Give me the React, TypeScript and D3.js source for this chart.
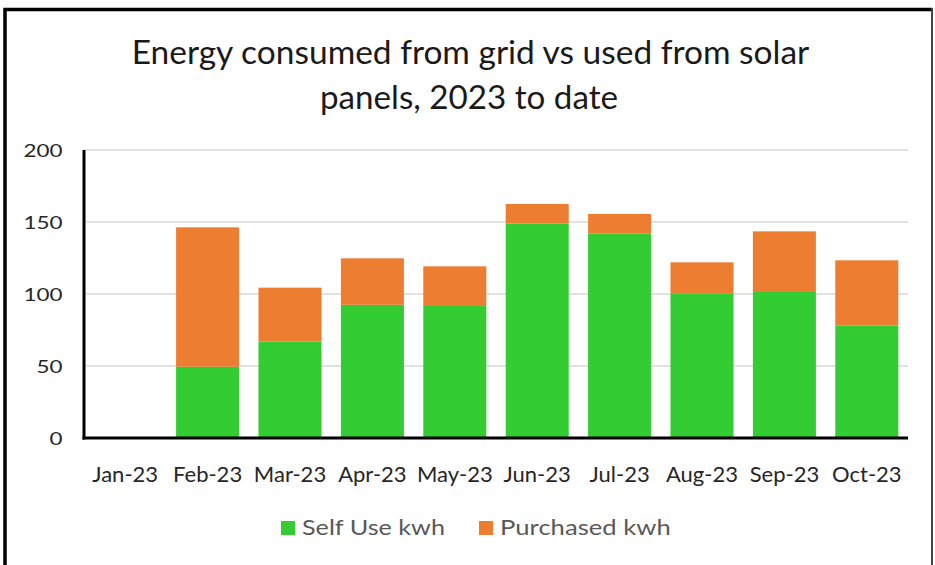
import { useEffect, useRef } from 'react';
import * as d3 from "d3";

// chart data
const months = ["Jan-23", "Feb-23", "Mar-23", "Apr-23", "May-23", "Jun-23", "Jul-23", "Aug-23", "Sep-23", "Oct-23"];
const selfUse = [0, 49.5, 67, 92.5, 91.7, 149, 142, 100.5, 102, 78];
const purchased = [0, 96.8, 37.4, 32.3, 27.5, 13.5, 13.6, 21.5, 41.5, 45.4];
const yTicks = [0, 50, 100, 150, 200];
const seriesNames = ["Self Use kwh", "Purchased kwh"];
const seriesColors = ["#33cc33", "#ed7d31"];
const titleLines = ["Energy consumed from grid vs used from solar", "panels, 2023 to date"];

export default function App() {
  const chartRef = useRef<SVGSVGElement>(null);

  useEffect(() => {
    if (!chartRef.current) return;
    document.body.style.margin = "0";

    const svg = d3.select(chartRef.current);
    svg.selectAll("*").remove();

    const width = 935;
    const height = 565;
    const marginLeft = 84;
    const marginRight = 27;
    const plotTop = 150;
    const plotBottom = 438;
    const font = "Lato, 'Open Sans', sans-serif";

    svg.attr("viewBox", [0, 0, width, height])
      .attr("width", width)
      .attr("height", height);

    // background + frame
    svg.append("rect").attr("width", width).attr("height", height).attr("fill", "white");
    svg.append("path")
      .attr("d", `M5,${height} V9.5 H${width - 3}`)
      .attr("fill", "none").attr("stroke", "#000").attr("stroke-width", 3.5);
    svg.append("line")
      .attr("x1", width - 3).attr("x2", width - 3).attr("y1", 8).attr("y2", height)
      .attr("stroke", "#444").attr("stroke-width", 2);

    const table = months.map((m, i) => ({ month: m, self: selfUse[i], purchased: purchased[i] }));

    const x = d3.scaleBand()
      .domain(months)
      .range([marginLeft, width - marginRight])
      .paddingInner(0.235)
      .paddingOuter(0.1175);

    const y = d3.scaleLinear()
      .domain([0, 200])
      .range([plotBottom, plotTop]);

    // gridlines
    svg.append("g")
      .selectAll("line")
      .data(yTicks.filter(t => t > 0))
      .join("line")
      .attr("x1", marginLeft).attr("x2", width - marginRight)
      .attr("y1", d => y(d)).attr("y2", d => y(d))
      .attr("stroke", "#d9d9d9").attr("stroke-width", 1.5);

    // stacked bars
    const stack = d3.stack<any>().keys(["self", "purchased"]);
    const layers = stack(table);

    svg.append("g")
      .selectAll("g")
      .data(layers)
      .join("g")
      .attr("fill", (d, i) => seriesColors[i])
      .selectAll("rect")
      .data(d => d)
      .join("rect")
      .attr("x", d => x(d.data.month) || 0)
      .attr("width", x.bandwidth())
      .attr("y", d => y(d[1]))
      .attr("height", d => y(d[0]) - y(d[1]));

    // axes lines
    svg.append("line")
      .attr("x1", marginLeft).attr("x2", marginLeft)
      .attr("y1", plotTop).attr("y2", plotBottom + 1.5)
      .attr("stroke", "#000").attr("stroke-width", 3);
    svg.append("line")
      .attr("x1", marginLeft - 1.5).attr("x2", width - marginRight)
      .attr("y1", plotBottom).attr("y2", plotBottom)
      .attr("stroke", "#000").attr("stroke-width", 3);

    // y tick labels
    svg.append("g")
      .selectAll("text")
      .data(yTicks)
      .join("text")
      .attr("x", 62.5)
      .attr("y", d => y(d) + 6.5)
      .attr("text-anchor", "end")
      .attr("textLength", d => String(d).length * 13)
      .attr("lengthAdjust", "spacingAndGlyphs")
      .style("font-family", font)
      .style("font-size", "18px")
      .style("fill", "#262626")
      .text(d => d);

    // x tick labels
    svg.append("g")
      .selectAll("text")
      .data(months)
      .join("text")
      .attr("x", d => (x(d) || 0) + x.bandwidth() / 2)
      .attr("y", 482)
      .attr("text-anchor", "middle")
      .style("font-family", font)
      .style("font-size", "22px")
      .style("fill", "#262626")
      .text(d => d);

    // title
    svg.append("text")
      .attr("x", 131.7).attr("y", 64.3)
      .attr("textLength", 677.6)
      .attr("lengthAdjust", "spacingAndGlyphs")
      .style("font-family", font)
      .style("font-size", "33px")
      .style("fill", "#1a1a1a")
      .text(titleLines[0]);
    svg.append("text")
      .attr("x", 320).attr("y", 109.3)
      .attr("textLength", 298)
      .attr("lengthAdjust", "spacingAndGlyphs")
      .style("font-family", font)
      .style("font-size", "33px")
      .style("fill", "#1a1a1a")
      .text(titleLines[1]);

    // legend
    const legendX = [281, 479];
    const legendW = [143, 170.7];
    const legend = svg.append("g")
      .selectAll("g")
      .data(seriesNames)
      .join("g")
      .attr("transform", (d, i) => `translate(${legendX[i]},521)`);
    legend.append("rect")
      .attr("width", 14).attr("height", 14)
      .attr("fill", (d, i) => seriesColors[i]);
    legend.append("text")
      .attr("x", 21).attr("y", 14)
      .attr("textLength", (d, i) => legendW[i])
      .attr("lengthAdjust", "spacingAndGlyphs")
      .style("font-family", font)
      .style("font-size", "22px")
      .style("fill", "#595959")
      .text(d => d);
  }, []);

  return (
    <div style={{ position: "absolute", left: 0, top: 0 }}>
      <svg ref={chartRef}></svg>
    </div>
  );
}
